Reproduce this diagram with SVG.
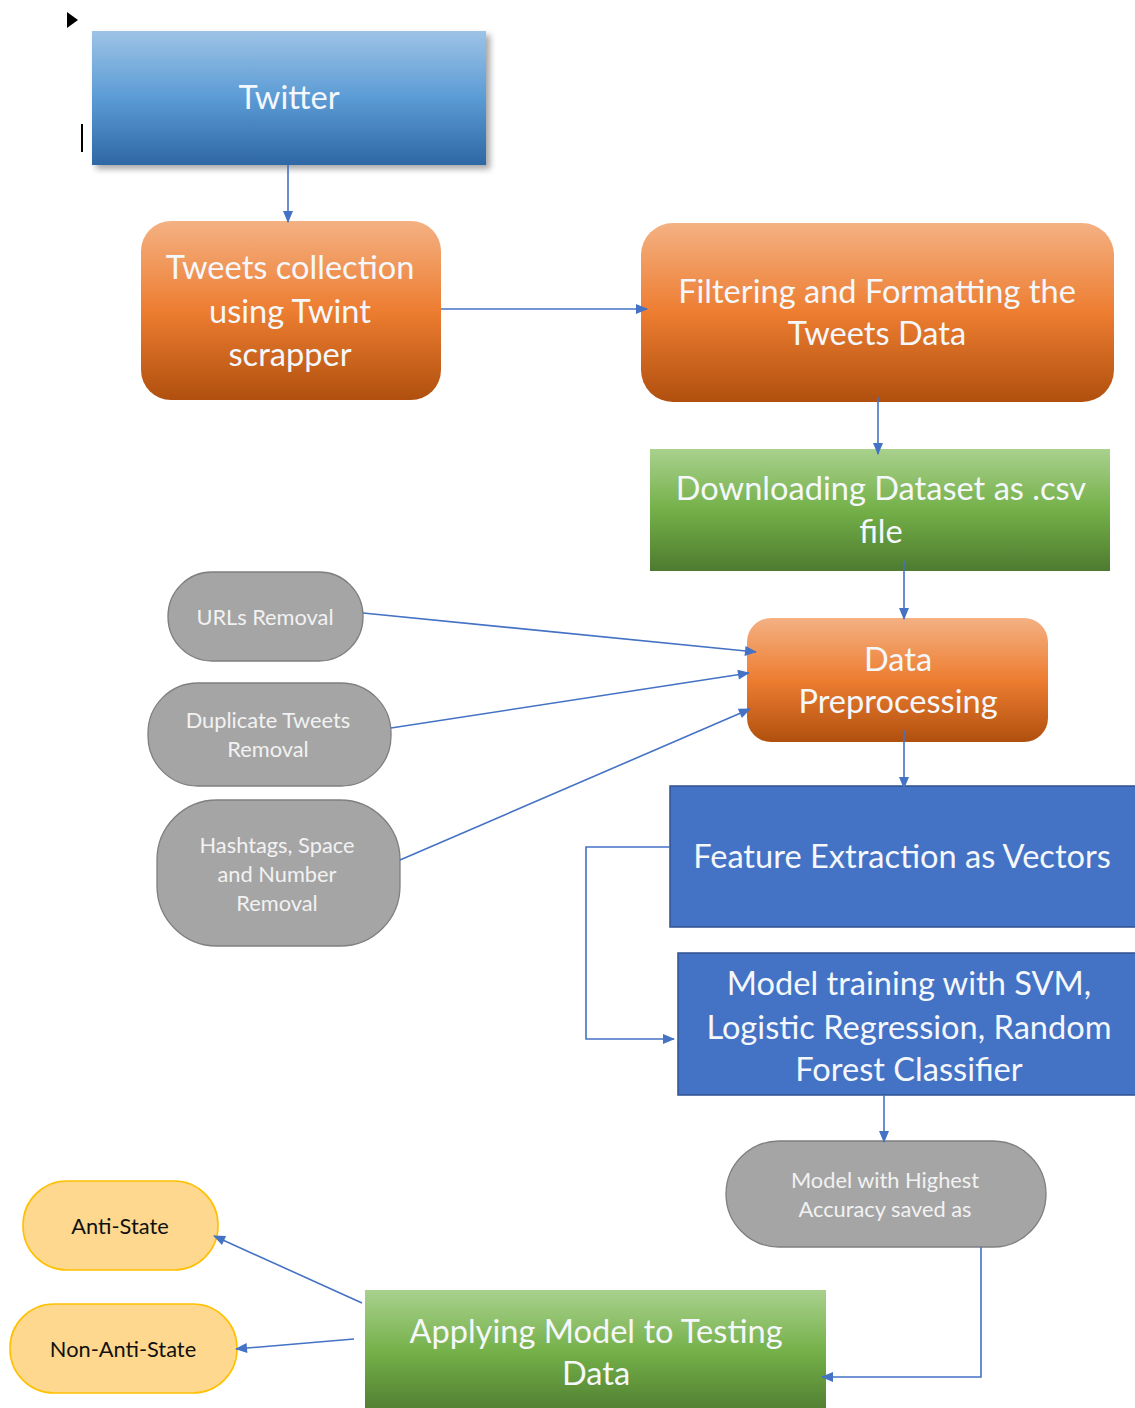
<svg xmlns="http://www.w3.org/2000/svg" width="1135" height="1408" viewBox="0 0 1135 1408">
<style>
.big{font-family:Lato,"Noto Sans","Liberation Sans",sans-serif;font-size:32.6px;fill:#f4f7fb;text-anchor:middle}
.sm{font-family:Lato,"Noto Sans","Liberation Sans",sans-serif;font-size:21.8px;fill:#f2f2f2;text-anchor:middle}
.yl{font-family:Lato,"Noto Sans","Liberation Sans",sans-serif;font-size:21.8px;fill:#111;text-anchor:middle}
.gray{fill:#a5a5a5;stroke:#7f7f7f;stroke-width:1.3}
.yel{fill:#fed88f;stroke:#ffc000;stroke-width:1.6}
.blue{fill:#4472c4;stroke:#2f528f;stroke-width:1.5}
.conn{fill:none;stroke:#4472c4;stroke-width:1.6}
</style>
<defs>
<linearGradient id="gBlue" x1="0" y1="0" x2="0" y2="1"><stop offset="0" stop-color="#9dc3e6"/><stop offset="0.5" stop-color="#5b9bd5"/><stop offset="1" stop-color="#2e67a4"/></linearGradient>
<linearGradient id="gOr" x1="0" y1="0" x2="0" y2="1"><stop offset="0" stop-color="#f4b183"/><stop offset="0.5" stop-color="#ed7d31"/><stop offset="1" stop-color="#b0500e"/></linearGradient>
<linearGradient id="gGr" x1="0" y1="0" x2="0" y2="1"><stop offset="0" stop-color="#a9d18e"/><stop offset="0.5" stop-color="#74b048"/><stop offset="1" stop-color="#4e7b30"/></linearGradient>
<filter id="sh" x="-10%" y="-10%" width="125%" height="130%"><feDropShadow dx="4" dy="4" stdDeviation="3" flood-color="#000" flood-opacity="0.35"/></filter>
<marker id="ah" viewBox="0 0 12 10" refX="11" refY="5" markerWidth="7.5" markerHeight="6.25" markerUnits="strokeWidth" orient="auto" overflow="visible"><path d="M0,0 L12,5 L0,10 z" fill="#4472c4" stroke="none"/></marker>
</defs>
<rect width="1135" height="1408" fill="#fff"/>
<path d="M67,12 L78,20 L67,28 z" fill="#000"/>
<rect x="81" y="124" width="2" height="28" fill="#000"/>

<g id="twitter">
<rect x="92" y="31" width="394" height="134" fill="url(#gBlue)" filter="url(#sh)"/>
<text class="big" x="289" y="109">Twitter</text>
</g>
<g id="tweets-collection">
<rect x="141" y="221" width="300" height="179" rx="30" fill="url(#gOr)"/>
<text class="big" x="290" y="279">Tweets collection</text>
<text class="big" x="290" y="323">using Twint</text>
<text class="big" x="290" y="366">scrapper</text>
</g>
<g id="filtering">
<rect x="641" y="223" width="473" height="179" rx="32" fill="url(#gOr)"/>
<text class="big" x="877" y="303">Filtering and Formatting the</text>
<text class="big" x="877" y="345">Tweets Data</text>
</g>
<g id="downloading">
<rect x="650" y="449" width="460" height="122" fill="url(#gGr)"/>
<text class="big" x="881" y="500">Downloading Dataset as .csv</text>
<text class="big" x="881" y="543">file</text>
</g>
<g id="preprocessing">
<rect x="747" y="618" width="301" height="124" rx="24" fill="url(#gOr)"/>
<text class="big" x="898" y="671">Data</text>
<text class="big" x="898" y="713">Preprocessing</text>
</g>
<g id="urls">
<rect class="gray" x="168" y="572" width="195" height="89" rx="44"/>
<text class="sm" x="265" y="625">URLs Removal</text>
</g>
<g id="duplicate">
<rect class="gray" x="148" y="683" width="243" height="103" rx="50"/>
<text class="sm" x="268" y="728">Duplicate Tweets</text>
<text class="sm" x="268" y="757">Removal</text>
</g>
<g id="hashtags">
<rect class="gray" x="157" y="800" width="243" height="146" rx="60"/>
<text class="sm" x="277" y="853">Hashtags, Space</text>
<text class="sm" x="277" y="882">and Number</text>
<text class="sm" x="277" y="911">Removal</text>
</g>
<g id="feature">
<rect class="blue" x="670" y="786" width="470" height="141"/>
<text class="big" x="902" y="868">Feature Extraction as Vectors</text>
</g>
<g id="training">
<rect class="blue" x="678" y="953" width="462" height="142"/>
<text class="big" x="909" y="995">Model training with SVM,</text>
<text class="big" x="909" y="1039">Logistic Regression, Random</text>
<text class="big" x="909" y="1081">Forest Classifier</text>
</g>
<g id="best-model">
<rect class="gray" x="726" y="1141" width="320" height="106" rx="53"/>
<text class="sm" x="885" y="1188">Model with Highest</text>
<text class="sm" x="885" y="1217">Accuracy saved as</text>
</g>
<g id="applying">
<rect x="365" y="1290" width="461" height="125" fill="url(#gGr)"/>
<text class="big" x="596" y="1343">Applying Model to Testing</text>
<text class="big" x="596" y="1385">Data</text>
</g>
<g id="anti-state">
<rect class="yel" x="23" y="1181" width="195" height="89" rx="44"/>
<text class="yl" x="120" y="1234">Anti-State</text>
</g>
<g id="non-anti-state">
<rect class="yel" x="10" y="1304" width="227" height="89" rx="44"/>
<text class="yl" x="123" y="1357">Non-Anti-State</text>
</g>

<g id="connectors">
<path class="conn" d="M288,165 L288,222" marker-end="url(#ah)"/>
<path class="conn" d="M441,309 L647,309" marker-end="url(#ah)"/>
<path class="conn" d="M878,397 L878,454" marker-end="url(#ah)"/>
<path class="conn" d="M904,561 L904,619" marker-end="url(#ah)"/>
<path class="conn" d="M904,730 L904,788" marker-end="url(#ah)"/>
<path class="conn" d="M363,613 L756,652" marker-end="url(#ah)"/>
<path class="conn" d="M391,728 L749,673" marker-end="url(#ah)"/>
<path class="conn" d="M400,860 L750,709" marker-end="url(#ah)"/>
<path class="conn" d="M670,847 L586,847 L586,1039 L674,1039" marker-end="url(#ah)"/>
<path class="conn" d="M884,1095 L884,1142" marker-end="url(#ah)"/>
<path class="conn" d="M981,1247 L981,1377 L822,1377" marker-end="url(#ah)"/>
<path class="conn" d="M362,1303 L214,1236" marker-end="url(#ah)"/>
<path class="conn" d="M354,1339 L236,1349" marker-end="url(#ah)"/>
</g>
</svg>
